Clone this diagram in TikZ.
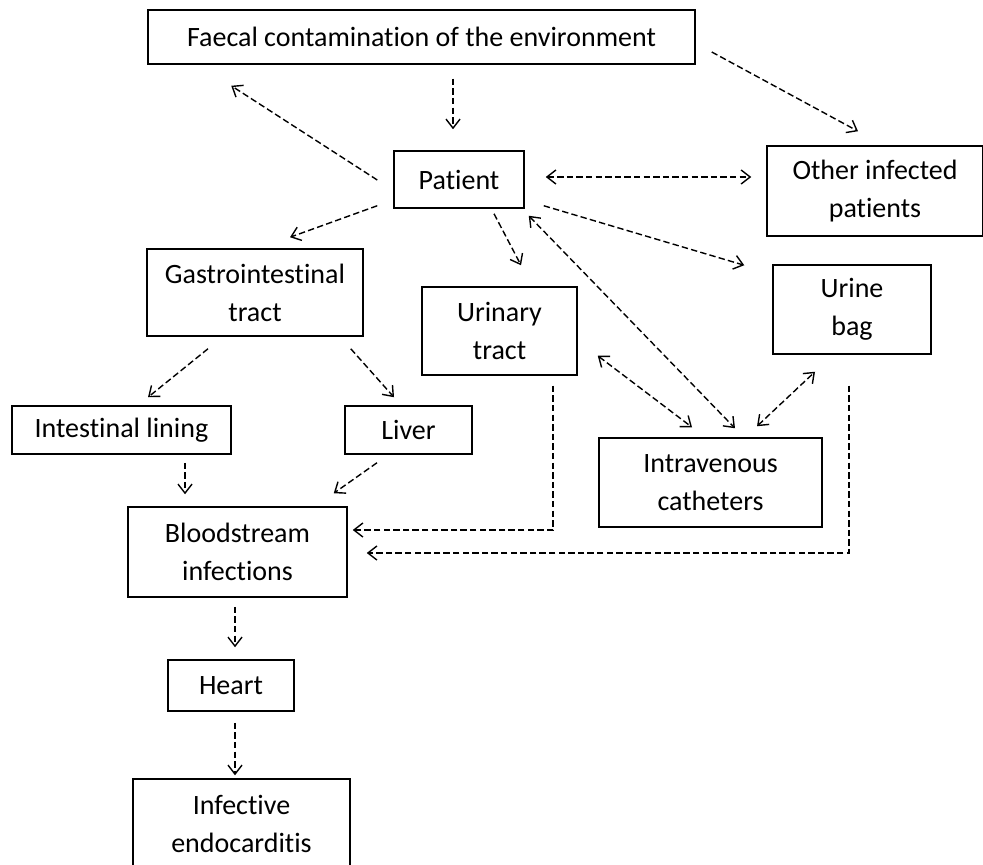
\documentclass[tikz,border=0pt]{standalone}
\usepackage{fontspec}
\setmainfont{Carlito}[Ligatures=NoCommon]
\usepackage{tikz}
\usetikzlibrary{calc,arrows.meta}

\tikzset{
  box/.style={draw, line width=0.75pt, inner sep=0pt, align=center,
    font=\fontsize{14}{19}\selectfont},
  link/.style={dashed, dash pattern=on 3.2pt off 1.6pt, line width=0.7pt,
    -{Straight Barb[length=4.5pt,width=7pt]}},
  twoway/.style={link, {Straight Barb[length=4.5pt,width=7pt]}-{Straight Barb[length=4.5pt,width=7pt]}}
}

\begin{document}
\begin{tikzpicture}[x=0.5pt,y=-0.5pt]
  \useasboundingbox (0,0) rectangle (983,865);

  % Boxes
  \node[box, minimum width=547*0.5pt, minimum height=54*0.5pt] (faecal) at (421.5,37) {Faecal contamination of the environment};
  \node[box, minimum width=130*0.5pt, minimum height=57*0.5pt] (patient) at (459,179.5) {Patient};
  \node[box, minimum width=216*0.5pt, minimum height=90*0.5pt] (other) at (875,191) {Other infected\\patients};
  \node[box, minimum width=216*0.5pt, minimum height=87*0.5pt] (gi) at (255,292.5) {Gastrointestinal\\tract};
  \node[box, minimum width=155*0.5pt, minimum height=88*0.5pt] (urinary) at (499.5,331) {Urinary\\tract};
  \node[box, minimum width=158*0.5pt, minimum height=89*0.5pt] (bag) at (852,309.5) {Urine\\bag};
  \node[box, minimum width=219*0.5pt, minimum height=48*0.5pt] (lining) at (121.5,430) {Intestinal lining};
  \node[box, minimum width=127*0.5pt, minimum height=48*0.5pt] (liver) at (408.5,430) {Liver};
  \node[box, minimum width=223*0.5pt, minimum height=89*0.5pt] (catheters) at (710.5,482.5) {Intravenous\\catheters};
  \node[box, minimum width=219*0.5pt, minimum height=90*0.5pt] (blood) at (237.5,552) {Bloodstream\\infections};
  \node[box, minimum width=126*0.5pt, minimum height=51*0.5pt] (heart) at (231,685.5) {Heart};
  \node[box, minimum width=217*0.5pt, minimum height=90*0.5pt] (endo) at (241.5,824) {Infective\\endocarditis};

  % Spread from the patient
  \draw[link] ($(patient.west)+(-16,0.5)$) -- ($(faecal.south west)+(84,21)$);
  \draw[link] ($(faecal.south)+(31.5,14)$) -- ($(patient.north)+(-6,-21)$);
  \draw[link] ($(faecal.east)+(16,15)$) -- ($(other.north)+(-17,-14)$);
  \draw[twoway] ($(patient.east)+(21,-2.5)$) -- ($(other.west)+(-15,-14)$);
  \draw[link] ($(patient.south west)+(-16,-3)$) -- ($(gi.north)+(35,-11)$);
  \draw[link] ($(patient.south)+(35,5)$) -- ($(urinary.north)+(21.5,-21)$);
  \draw[link] ($(patient.south east)+(19,-3)$) -- ($(bag.north west)+(-28,1)$);

  % Catheters
  \draw[twoway] ($(patient.south east)+(4,7)$) -- ($(catheters.north)+(24.5,-9)$);
  \draw[twoway] ($(urinary.south east)+(20,-20)$) -- ($(catheters.north)+(-18.5,-10)$);
  \draw[twoway] ($(catheters.north)+(46.5,-11)$) -- ($(bag.south)+(-37,17)$);

  % Gut route
  \draw[link] ($(gi.south)+(-47,12)$) -- ($(lining.north)+(26.5,-8)$);
  \draw[link] ($(gi.south east)+(-13,12)$) -- ($(liver.north)+(-14.5,-8)$);
  \draw[link] ($(lining.south)+(63.5,8)$) -- ($(blood.north)+(-52.5,-12)$);
  \draw[link] ($(liver.south)+(-31.5,8)$) -- ($(blood.north east)+(-14,-13)$);

  % Into the bloodstream
  \draw[link] ($(urinary.south)+(53.5,10)$) |- ($(blood.east)+(5,-22)$);
  \draw[link] ($(bag.south)+(-3,31)$) |- ($(blood.east)+(19,1)$);
  \draw[link] ($(blood.south)+(-2.5,9)$) -- ($(heart.north)+(4,-12)$);
  \draw[link] ($(heart.south)+(4,11)$) -- ($(endo.north)+(-6.5,-3)$);
\end{tikzpicture}
\end{document}
